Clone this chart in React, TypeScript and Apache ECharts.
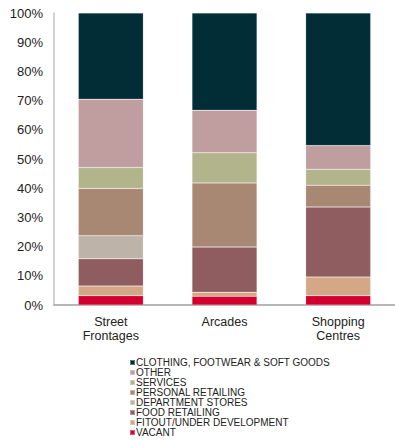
import React, { useEffect, useRef } from "react";
import * as echarts from "echarts";

const categories = ["Street\nFrontages", "Arcades", "Shopping\nCentres"];
const seriesNames = [
  "VACANT",
  "FITOUT/UNDER DEVELOPMENT",
  "FOOD RETAILING",
  "DEPARTMENT STORES",
  "PERSONAL RETAILING",
  "SERVICES",
  "OTHER",
  "CLOTHING, FOOTWEAR & SOFT GOODS",
];
const vacant = [3.2, 3.0, 3.2];
const fitout = [3.3, 1.4, 6.4];
const food = [9.3, 15.5, 24.0];
const department = [7.9, 0, 0];
const personal = [16.2, 21.9, 7.4];
const services = [7.2, 10.3, 5.5];
const other = [23.4, 14.6, 8.1];
const clothing = [29.5, 33.3, 45.4];
const yTicks = [0, 10, 20, 30, 40, 50, 60, 70, 80, 90, 100];

const values = [vacant, fitout, food, department, personal, services, other, clothing];
const colors = ["#d3002f", "#d4a886", "#8f5d5f", "#bdb3a8", "#a98873", "#b2b58c", "#c09d9f", "#022d37"];

export default function App() {
  const ref = useRef<HTMLDivElement>(null);
  useEffect(() => {
    const chart = echarts.init(ref.current!, null, { renderer: "svg" });
    chart.setOption({
      animation: false,
      textStyle: { fontFamily: "Liberation Sans, Arial, sans-serif" },
      grid: { left: 54, top: 13, width: 347, height: 292, containLabel: false },
      legend: {
        orient: "vertical",
        left: 129,
        top: 357.5,
        height: 90,
        padding: 0,
        itemWidth: 5,
        itemHeight: 5,
        itemGap: 0,
        icon: "rect",
        data: seriesNames.slice().reverse(),
        textStyle: { fontSize: 10, color: "#222", lineHeight: 9.8, padding: [0, 0, 0, -4] },
      },
      xAxis: {
        type: "category",
        data: categories,
        axisLine: { lineStyle: { color: "#a0a0a0", width: 1.5 } },
        axisTick: { show: false },
        axisLabel: { fontSize: 12.5, color: "#222", lineHeight: 14, margin: 10 },
      },
      yAxis: {
        type: "value",
        min: 0,
        max: 100,
        interval: 10,
        axisLine: { show: true, lineStyle: { color: "#c4c4c4", width: 1.5 } },
        axisTick: { show: false },
        splitLine: { show: false },
        axisLabel: {
          fontSize: 13,
          color: "#222",
          margin: 11,
          formatter: (v: number) => (yTicks.includes(v) ? v + "%" : ""),
        },
      },
      series: seriesNames.map((name, i) => ({
        name,
        type: "bar",
        stack: "total",
        barWidth: 65,
        data: values[i],
        itemStyle: { color: colors[i], borderColor: "rgba(255,255,255,0.35)", borderWidth: 0.5 },
      })),
    });
    return () => chart.dispose();
  }, []);
  return <div ref={ref} style={{ width: 395, height: 441, position: "absolute", left: 0, top: 0 }} />;
}
